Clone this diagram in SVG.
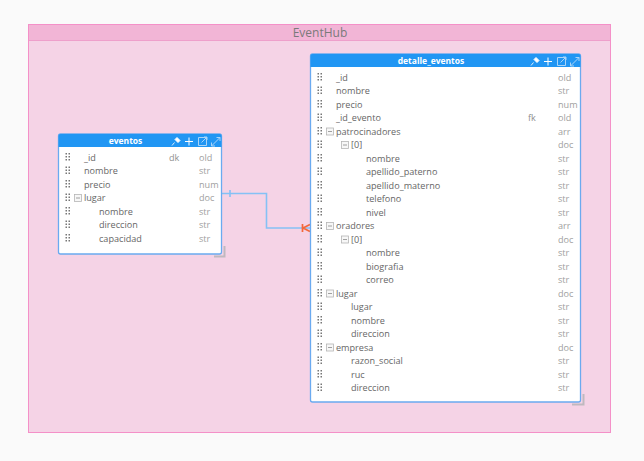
<svg xmlns="http://www.w3.org/2000/svg" width="644" height="461" viewBox="0 0 644 461">
<style>
text{font-family:"Open Sans","Noto Sans",sans-serif;font-size:9.1px}
.n{fill:#666}
.t{fill:#a0a0a0}
.k{fill:#909090}
.h{fill:#fff;font-weight:700;font-size:8.5px;text-anchor:middle}
.box{fill:#fff;stroke:#6aaaf0;stroke-width:1.3}
.head{fill:#2196f3}
.ic{fill:none;stroke:#fff;stroke-width:1}
.ic2{fill:none;stroke:#a9d4f8;stroke-width:1}
.m{fill:#f7f7f7;stroke:#b5b5b5;stroke-width:.8}
.mb{stroke:#8a8a8a;stroke-width:.8}
.res{fill:none;stroke:#bfb9bf;stroke-width:2}
.conn{fill:none;stroke:#85c1f5;stroke-width:1.6}
</style>
<defs>
<g id="grip" fill="#777"><rect x="0" y="-4" width="1.5" height="1.5"/><rect x="3" y="-4" width="1.5" height="1.5"/><rect x="0" y="-1" width="1.5" height="1.5"/><rect x="3" y="-1" width="1.5" height="1.5"/><rect x="0" y="2" width="1.5" height="1.5"/><rect x="3" y="2" width="1.5" height="1.5"/></g>
<g id="minus"><rect class="m" x="0.5" y="-3.5" width="7" height="7"/><path class="mb" d="M2 0H6"/></g>
<g id="icons"><path d="M1 9.500L3.500 6.500" stroke="#dbeefd" stroke-width="1" fill="none"/><path d="M6 1.500L9 4.500L7 6.500L4 3.500Z" fill="#fff" stroke="#fff" stroke-width="1"/><path class="ic" d="M14 5.500H22M18 1.500V9.500"/><path class="ic2" d="M27.500 1.500H35.500V9.500H27.500ZM30.500 6.500L36 1M33 1H36V4"/><path class="ic2" d="M40.500 10L49 1.500M45.500 1.500H49V5M40.500 6.500V10H44"/></g>
</defs>
<rect width="644" height="461" fill="#fafafa"/>
<g id="EventHub">
<rect x="28.500" y="24.500" width="582" height="408" fill="#f5d3e6" stroke="#f490c8"/>
<rect x="29" y="25" width="581" height="15" fill="#f2b5d6"/>
<path d="M29 40.500H610" stroke="#ee9fcb" stroke-width="1"/>
<text x="320" y="36.500" text-anchor="middle" style="font-size:12px" fill="#7a7a7a">EventHub</text>
</g>
<g id="connectors">
<path class="conn" d="M222 193.500H266.500V228H311"/>
<path d="M230 190V197" stroke="#85c1f5" stroke-width="1.600" fill="none"/>
<path d="M302.500 224V232M310 224.500L303 228L310 231.500" stroke="#f4683a" stroke-width="1.700" fill="none"/>
</g>
<g id="eventos">
<path class="res" d="M224.500 246V256.500H214"/>
<rect class="box" x="58.500" y="134" width="163" height="120" rx="2"/>
<path class="head" d="M58.500 147V136Q58.500 134 60.500 134H219.500Q221.500 134 221.500 136V147Z"/>
<text class="h" x="125.500" y="144">eventos</text>
<use href="#icons" x="171" y="136"/>
<use href="#grip" x="65.500" y="157"/><use href="#grip" x="65.500" y="170.500"/><use href="#grip" x="65.500" y="184"/><use href="#grip" x="65.500" y="197.500"/><use href="#grip" x="65.500" y="211"/><use href="#grip" x="65.500" y="224.500"/><use href="#grip" x="65.500" y="238"/>
<use href="#minus" x="74" y="198"/>
<text class="n" x="84" y="160.500">_id</text><text class="k" x="169" y="160.500">dk</text><text class="t" x="199" y="160.500">old</text>
<text class="n" x="84" y="174">nombre</text><text class="t" x="199" y="174">str</text>
<text class="n" x="84" y="187.500">precio</text><text class="t" x="199" y="187.500">num</text>
<text class="n" x="84" y="201">lugar</text><text class="t" x="199" y="201">doc</text>
<text class="n" x="99" y="214.500">nombre</text><text class="t" x="199" y="214.500">str</text>
<text class="n" x="99" y="228">direccion</text><text class="t" x="199" y="228">str</text>
<text class="n" x="99" y="241.500">capacidad</text><text class="t" x="199" y="241.500">str</text>
</g>
<g id="detalle_eventos">
<path class="res" d="M583.500 394V404.500H572"/>
<rect class="box" x="310.500" y="54" width="270" height="348" rx="2"/>
<path class="head" d="M310.500 67V56Q310.500 54 312.500 54H578.500Q580.500 54 580.500 56V67Z"/>
<text class="h" x="431" y="64">detalle_eventos</text>
<use href="#icons" x="530" y="56"/>
<use href="#grip" x="317.500" y="77"/><use href="#grip" x="317.500" y="90.500"/><use href="#grip" x="317.500" y="104"/><use href="#grip" x="317.500" y="117.500"/><use href="#grip" x="317.500" y="131"/><use href="#grip" x="317.500" y="144.500"/><use href="#grip" x="317.500" y="158"/><use href="#grip" x="317.500" y="171.500"/><use href="#grip" x="317.500" y="185"/><use href="#grip" x="317.500" y="198.500"/><use href="#grip" x="317.500" y="212"/><use href="#grip" x="317.500" y="225.500"/><use href="#grip" x="317.500" y="239"/><use href="#grip" x="317.500" y="252.500"/><use href="#grip" x="317.500" y="266"/><use href="#grip" x="317.500" y="279.500"/><use href="#grip" x="317.500" y="293"/><use href="#grip" x="317.500" y="306.500"/><use href="#grip" x="317.500" y="320"/><use href="#grip" x="317.500" y="333.500"/><use href="#grip" x="317.500" y="347"/><use href="#grip" x="317.500" y="360.500"/><use href="#grip" x="317.500" y="374"/><use href="#grip" x="317.500" y="387.500"/>
<use href="#minus" x="326" y="131.500"/><use href="#minus" x="341" y="145"/><use href="#minus" x="326" y="226"/><use href="#minus" x="341" y="239.500"/><use href="#minus" x="326" y="293.500"/><use href="#minus" x="326" y="347.500"/>
<text class="n" x="336" y="80.500">_id</text><text class="t" x="558" y="80.500">old</text>
<text class="n" x="336" y="94">nombre</text><text class="t" x="558" y="94">str</text>
<text class="n" x="336" y="107.500">precio</text><text class="t" x="558" y="107.500">num</text>
<text class="n" x="336" y="121">_id_evento</text><text class="k" x="528" y="121">fk</text><text class="t" x="558" y="121">old</text>
<text class="n" x="336" y="134.500">patrocinadores</text><text class="t" x="558" y="134.500">arr</text>
<text class="n" x="351" y="148">[0]</text><text class="t" x="558" y="148">doc</text>
<text class="n" x="366" y="161.500">nombre</text><text class="t" x="558" y="161.500">str</text>
<text class="n" x="366" y="175">apellido_paterno</text><text class="t" x="558" y="175">str</text>
<text class="n" x="366" y="188.500">apellido_materno</text><text class="t" x="558" y="188.500">str</text>
<text class="n" x="366" y="202">telefono</text><text class="t" x="558" y="202">str</text>
<text class="n" x="366" y="215.500">nivel</text><text class="t" x="558" y="215.500">str</text>
<text class="n" x="336" y="229">oradores</text><text class="t" x="558" y="229">arr</text>
<text class="n" x="351" y="242.500">[0]</text><text class="t" x="558" y="242.500">doc</text>
<text class="n" x="366" y="256">nombre</text><text class="t" x="558" y="256">str</text>
<text class="n" x="366" y="269.500">biografia</text><text class="t" x="558" y="269.500">str</text>
<text class="n" x="366" y="283">correo</text><text class="t" x="558" y="283">str</text>
<text class="n" x="336" y="296.500">lugar</text><text class="t" x="558" y="296.500">doc</text>
<text class="n" x="351" y="310">lugar</text><text class="t" x="558" y="310">str</text>
<text class="n" x="351" y="323.500">nombre</text><text class="t" x="558" y="323.500">str</text>
<text class="n" x="351" y="337">direccion</text><text class="t" x="558" y="337">str</text>
<text class="n" x="336" y="350.500">empresa</text><text class="t" x="558" y="350.500">doc</text>
<text class="n" x="351" y="364">razon_social</text><text class="t" x="558" y="364">str</text>
<text class="n" x="351" y="377.500">ruc</text><text class="t" x="558" y="377.500">str</text>
<text class="n" x="351" y="391">direccion</text><text class="t" x="558" y="391">str</text>
</g>
</svg>
